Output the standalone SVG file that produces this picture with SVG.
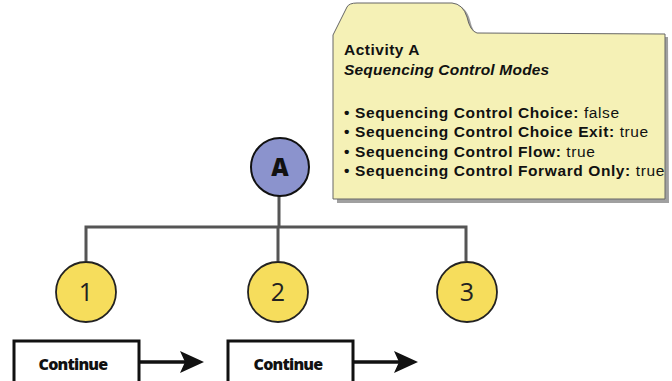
<svg xmlns="http://www.w3.org/2000/svg" width="672" height="381" viewBox="0 0 672 381">
<style>
.conn{fill:none;stroke:#555;stroke-width:3}
.leaf{fill:#f6dd5c;stroke:#222;stroke-width:1.8}
.num{font-family:"Open Sans","DejaVu Sans",sans-serif;font-size:25px;fill:#222;text-anchor:middle}
.box{fill:#fff;stroke:#111;stroke-width:3}
.btn{font-family:"Open Sans","DejaVu Sans",sans-serif;font-size:16px;font-weight:800;fill:#111;text-anchor:middle;letter-spacing:-0.8px}
.arr{stroke:#111;stroke-width:3.5;fill:none}
.nt{font-family:"Liberation Sans",Arial,sans-serif;font-size:15.5px;fill:#111}
.li{letter-spacing:0.6px}
</style>
<g id="note">
<path d="M336,38 L350,10 Q352,5 360,5 L455,5 Q466,6 470,20 Q473,34 480,36 L668,37 L669,203 L337,203 Z" fill="#888" opacity="0.8"/>
<path d="M333,35 L347,7 Q349,3 357,3 L452,3 Q463,4 467,17 Q470,31 477,33 L665,34 L665,199 L333,199 Z" fill="#f5f1b6" stroke="#666" stroke-width="1"/>
<text class="nt" x="344" y="55" font-weight="bold" letter-spacing="0.5">Activity A</text>
<text class="nt" x="344" y="75" font-weight="bold" font-style="italic" letter-spacing="0.2">Sequencing Control Modes</text>
<text class="nt li" x="344" y="118"><tspan font-weight="bold">•</tspan><tspan dx="5" font-weight="bold">Sequencing Control Choice:</tspan> false</text>
<text class="nt li" x="344" y="137"><tspan font-weight="bold">•</tspan><tspan dx="5" font-weight="bold">Sequencing Control Choice Exit:</tspan> true</text>
<text class="nt li" x="344" y="157"><tspan font-weight="bold">•</tspan><tspan dx="5" font-weight="bold">Sequencing Control Flow:</tspan> true</text>
<text class="nt li" x="344" y="176"><tspan font-weight="bold">•</tspan><tspan dx="5" font-weight="bold">Sequencing Control Forward Only:</tspan> true</text>
</g>
<g id="connectors">
<path class="conn" d="M279,196 V227 M86,261 V227 H466 V261 M278,227 V261"/>
<path class="arr" d="M140,362 H186"/>
<path d="M180,351 L204,362 L180,373 L185,362 Z" fill="#111"/>
<path class="arr" d="M354,362 H400"/>
<path d="M394,351 L418,362 L394,373 L399,362 Z" fill="#111"/>
</g>
<g id="nodeA">
<circle cx="280" cy="167" r="29" fill="#8b93cd" stroke="#111" stroke-width="2"/>
<text x="280" y="176" font-family="'Open Sans','DejaVu Sans',sans-serif" font-size="24" font-weight="800" text-anchor="middle" fill="#111">A</text>
</g>
<g id="node1"><circle class="leaf" cx="86" cy="292" r="30"/><text class="num" x="86" y="301">1</text></g>
<g id="node2"><circle class="leaf" cx="278" cy="292" r="30"/><text class="num" x="278" y="301">2</text></g>
<g id="node3"><circle class="leaf" cx="467" cy="292" r="30"/><text class="num" x="467" y="301">3</text></g>
<g id="continue1"><rect class="box" x="14" y="341" width="125" height="42"/><text class="btn" x="73" y="370">Continue</text></g>
<g id="continue2"><rect class="box" x="228" y="341" width="125" height="42"/><text class="btn" x="288" y="370">Continue</text></g>
</svg>
